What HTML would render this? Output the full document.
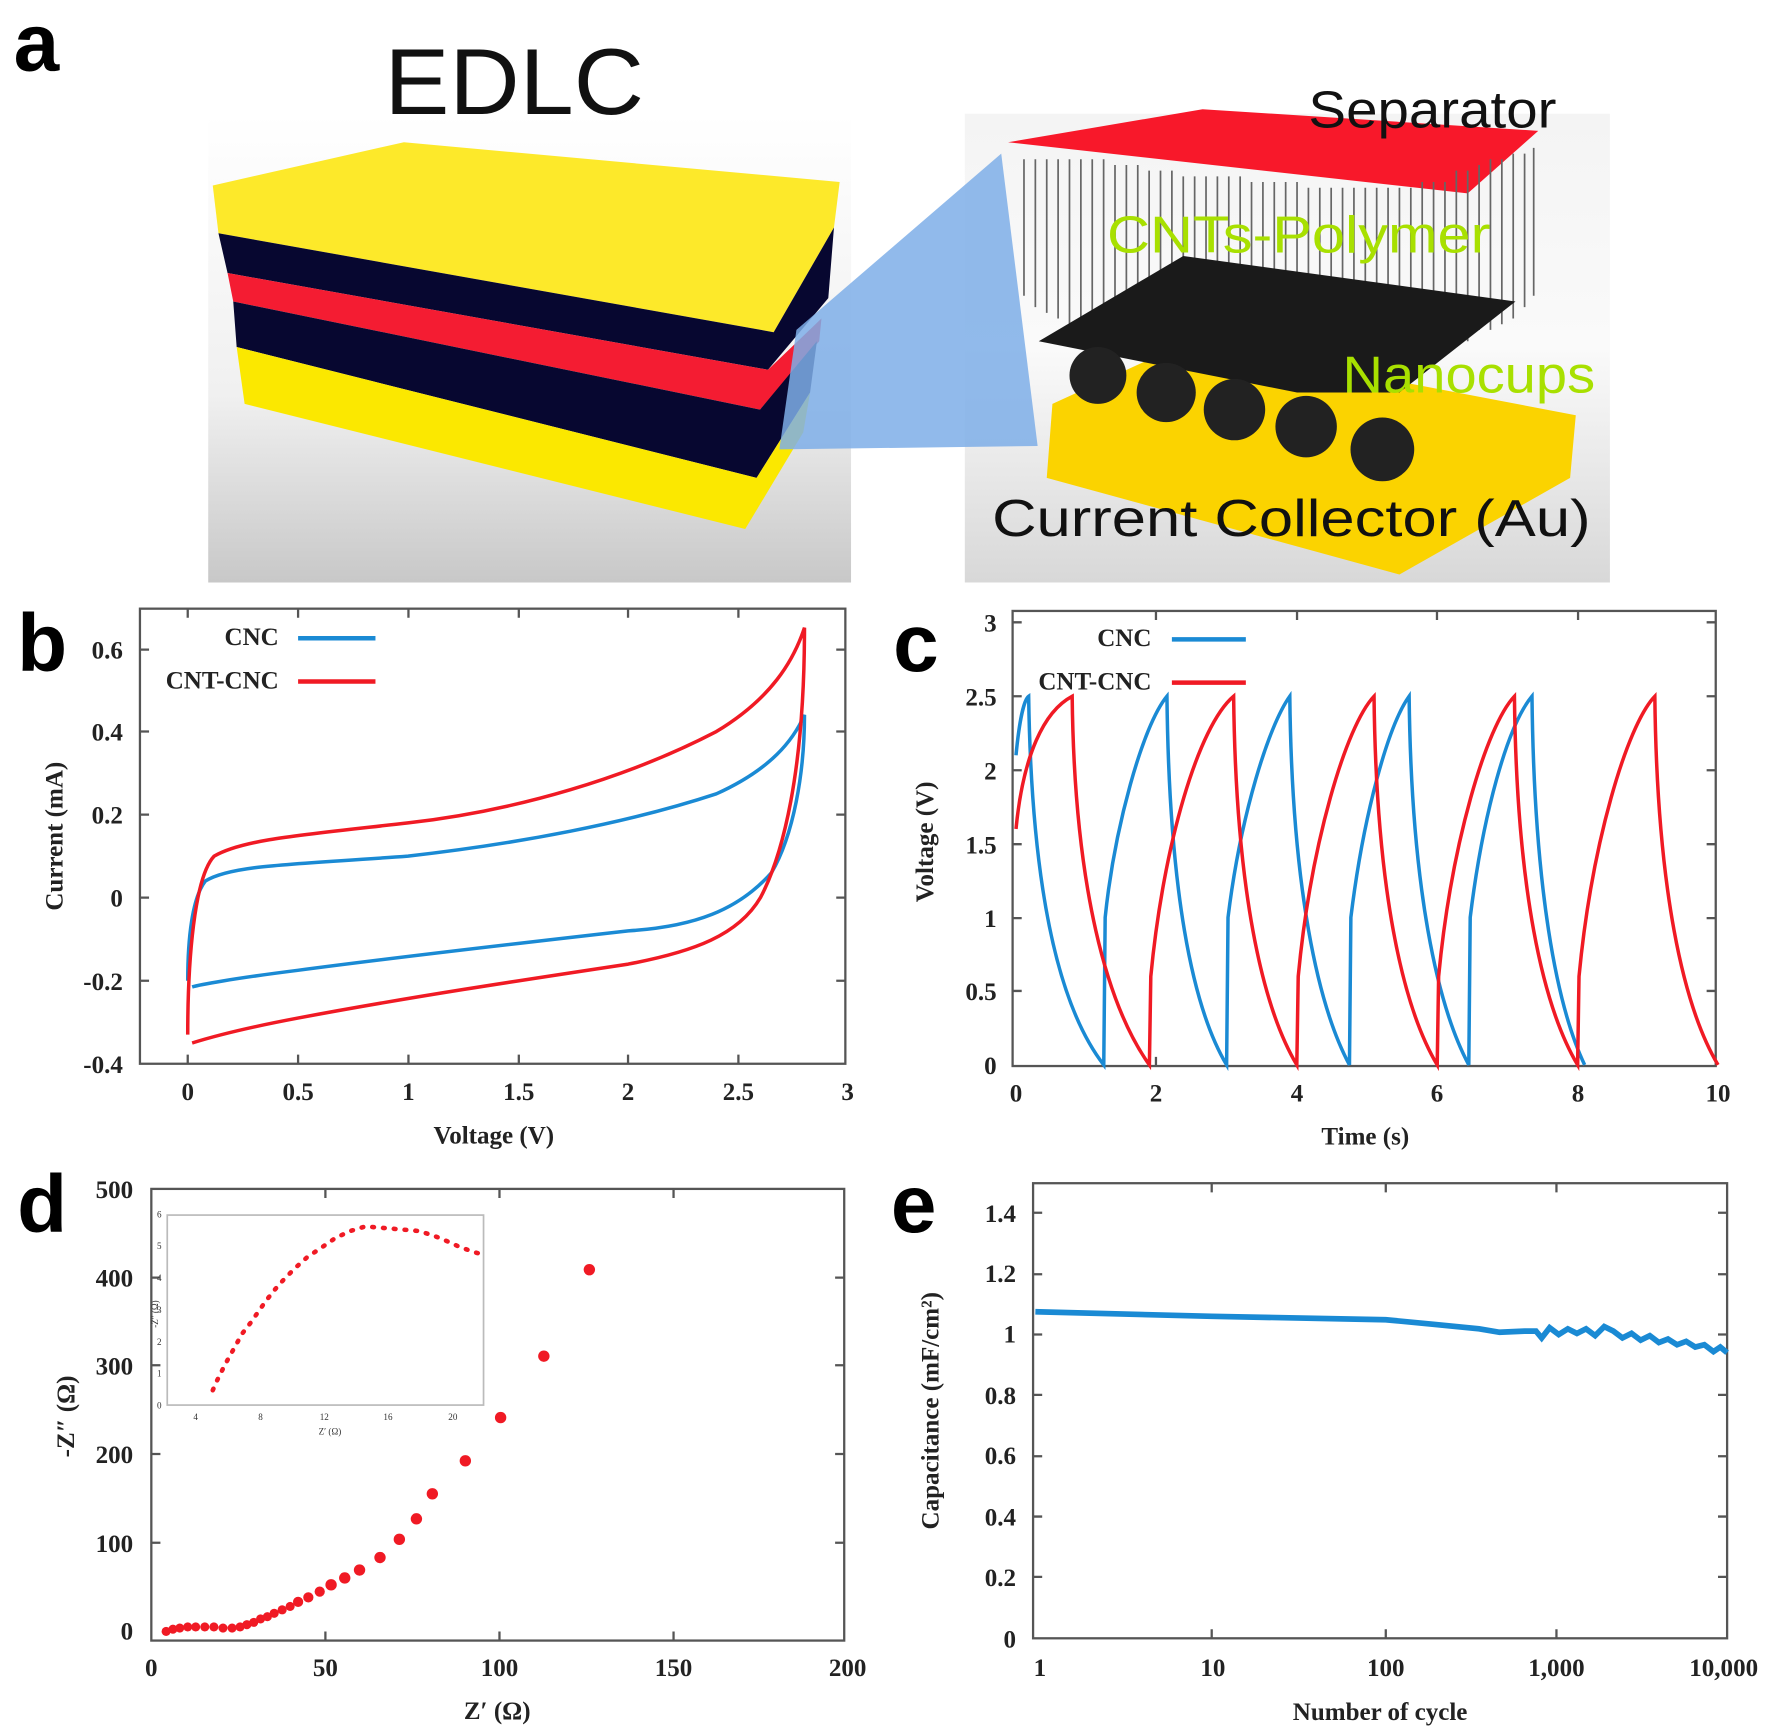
<!DOCTYPE html>
<html><head><meta charset="utf-8"><style>
html,body{margin:0;padding:0;background:#fff}
svg{display:block}
.t{font-family:"Liberation Serif",serif;font-weight:bold;font-size:22px;fill:#222}
.L{font-family:"Liberation Sans",sans-serif;font-weight:bold;font-size:72px;fill:#000}
.g{font-family:"Liberation Sans",sans-serif;font-size:46px}
.ax{fill:none;stroke:#555;stroke-width:2}
</style></head><body>
<svg width="1784" height="1735" viewBox="0 0 1568 1525" preserveAspectRatio="none" xmlns="http://www.w3.org/2000/svg">
<defs>
<linearGradient id="bg1" x1="0" y1="0" x2="0" y2="1"><stop offset="0" stop-color="#fff"/><stop offset="0.6" stop-color="#f0f0f0"/><stop offset="1" stop-color="#c8c8c8"/></linearGradient>
<linearGradient id="bg2" x1="0" y1="0" x2="0" y2="1"><stop offset="0" stop-color="#f4f4f4"/><stop offset="0.5" stop-color="#fafafa"/><stop offset="1" stop-color="#d8d8d8"/></linearGradient>
</defs>
<!-- panel a -->
<text x="12" y="62" class="L">a</text>
<rect x="183" y="100" width="565" height="412" fill="url(#bg1)"/>
<rect x="848" y="100" width="567" height="412" fill="url(#bg2)"/>
<text x="338" y="100" font-family="Liberation Sans,sans-serif" font-size="82" fill="#111" textLength="228" lengthAdjust="spacingAndGlyphs">EDLC</text>
<polygon points="187,163 355,125 738,160 733,200 680,292 192,205" fill="#fde92a"/>
<polygon points="192,205 680,292 733,200 728,262 675,325 200,240" fill="#070730"/>
<polygon points="200,240 675,325 722,280 720,300 668,360 205,265" fill="#f41c32"/>
<polygon points="205,265 668,360 718,300 712,345 665,420 208,305" fill="#070730"/>
<polygon points="208,305 665,420 712,345 706,380 655,465 215,355" fill="#fbe800"/>
<polygon points="700,290 880,135 912,392 685,395" fill="#7eaee8" opacity="0.85"/>
<polygon points="886,125 1057,96 1352,115 1290,170" fill="#f8182a"/>
<g stroke="#666" stroke-width="1.5">
<path d="M900 140V260M910 140V270M920 140V275M930 140V280M940 140V285M950 140V290M960 140V295M970 140V300M980 145V300M990 145V300M1000 145V300M1010 150V300M1020 150V300M1030 150V300M1040 155V300M1050 155V300M1060 155V300M1070 155V300M1080 155V300M1090 155V300M1100 160V300M1110 160V300M1120 160V300M1130 160V300M1140 160V300M1150 165V300M1160 165V300M1170 165V300M1180 165V300M1190 165V300M1200 165V300M1210 165V300M1220 165V300M1230 165V300M1240 165V300M1250 160V300M1260 160V300M1270 160V300M1280 150V300M1290 150V300M1300 145V290M1310 140V290M1320 140V285M1330 135V280M1340 135V270M1348 130V260"/>
</g>
<polygon points="925,355 1045,300 1385,365 1380,420 1230,505 920,420" fill="#fbd300"/>
<polygon points="913,300 1040,225 1332,265 1230,345 1140,345" fill="#1a1a1a"/>
<g fill="#222"><circle cx="965" cy="330" r="25"/><circle cx="1025" cy="345" r="26"/><circle cx="1085" cy="360" r="27"/><circle cx="1148" cy="375" r="27"/><circle cx="1215" cy="395" r="28"/></g>
<text x="1150" y="112" class="g" fill="#111" textLength="218" lengthAdjust="spacingAndGlyphs">Separator</text>
<text x="973" y="222" class="g" fill="#a8e000" textLength="337" lengthAdjust="spacingAndGlyphs">CNTs-Polymer</text>
<text x="1180" y="345" class="g" fill="#a8e000" textLength="222" lengthAdjust="spacingAndGlyphs">Nanocups</text>
<text x="872" y="471" class="g" font-size="48" fill="#111" textLength="526" lengthAdjust="spacingAndGlyphs">Current Collector (Au)</text>

<!-- panel b -->
<text x="15" y="590" class="L">b</text>
<rect x="123" y="535" width="620" height="400" class="ax"/>
<g class="t" text-anchor="end">
<text x="108" y="579">0.6</text><text x="108" y="651">0.4</text><text x="108" y="724">0.2</text><text x="108" y="797">0</text><text x="108" y="870">-0.2</text><text x="108" y="943">-0.4</text></g>
<g class="t" text-anchor="middle">
<text x="165" y="967">0</text><text x="262" y="967">0.5</text><text x="359" y="967">1</text><text x="456" y="967">1.5</text><text x="552" y="967">2</text><text x="649" y="967">2.5</text><text x="745" y="967">3</text>
<text x="434" y="1005">Voltage (V)</text>
<text transform="translate(55,735) rotate(-90)">Current (mA)</text></g>
<path d="M123 571h8M123 643h8M123 716h8M123 789h8M123 862h8M743 571h-8M743 643h-8M743 716h-8M743 789h-8M743 862h-8M165 935v-8M262 935v-8M359 935v-8M456 935v-8M552 935v-8M649 935v-8M165 535v8M262 535v8M359 535v8M456 535v8M552 535v8M649 535v8" class="ax"/>
<text x="245" y="567" class="t" text-anchor="end">CNC</text><text x="245" y="605" class="t" text-anchor="end">CNT-CNC</text>
<path d="M262 561h68" stroke="#1a8ad4" stroke-width="4"/><path d="M262 599h68" stroke="#f01a24" stroke-width="4"/>
<g transform="translate(165,789) scale(193.6,-365)" fill="none" stroke-width="3.5">
<path vector-effect="non-scaling-stroke" stroke="#1a8ad4" d="M0,-0.2 C0,-0.1 0.02,0 0.08,0.04 C0.2,0.08 0.5,0.08 1,0.1 C1.5,0.13 2,0.18 2.4,0.25 C2.65,0.31 2.75,0.38 2.8,0.44 C2.8,0.3 2.75,0.15 2.65,0.06 C2.5,-0.03 2.3,-0.07 2,-0.08 C1.5,-0.11 1,-0.14 0.5,-0.175 C0.2,-0.195 0.05,-0.21 0.02,-0.215"/>
<path vector-effect="non-scaling-stroke" stroke="#f01a24" d="M0,-0.33 C0,-0.15 0.03,0.05 0.12,0.1 C0.25,0.14 0.5,0.15 1,0.18 C1.5,0.21 2,0.29 2.4,0.4 C2.65,0.48 2.75,0.57 2.8,0.65 C2.8,0.3 2.7,0.1 2.6,0.0 C2.5,-0.09 2.3,-0.13 2,-0.16 C1.5,-0.2 1,-0.24 0.5,-0.29 C0.2,-0.32 0.05,-0.345 0.02,-0.35"/>
</g>

<!-- panel c -->
<text x="785" y="590" class="L">c</text>
<rect x="890" y="537" width="618" height="400" class="ax"/>
<g class="t" text-anchor="end">
<text x="876" y="555">3</text><text x="876" y="620">2.5</text><text x="876" y="685">2</text><text x="876" y="750">1.5</text><text x="876" y="815">1</text><text x="876" y="879">0.5</text><text x="876" y="944">0</text></g>
<g class="t" text-anchor="middle">
<text x="893" y="968">0</text><text x="1016" y="968">2</text><text x="1140" y="968">4</text><text x="1263" y="968">6</text><text x="1387" y="968">8</text><text x="1510" y="968">10</text>
<text x="1200" y="1006">Time (s)</text>
<text transform="translate(820,740) rotate(-90)">Voltage (V)</text></g>
<path d="M890 547h8M890 612h8M890 677h8M890 742h8M890 807h8M890 871h8M1508 547h-8M1508 612h-8M1508 677h-8M1508 742h-8M1508 807h-8M1508 871h-8M1016 937v-8M1140 937v-8M1263 937v-8M1387 937v-8M1016 537v8M1140 537v8M1263 537v8M1387 537v8" class="ax"/>
<text x="1012" y="568" class="t" text-anchor="end">CNC</text><text x="1012" y="606" class="t" text-anchor="end">CNT-CNC</text>
<path d="M1030 562h65" stroke="#1a8ad4" stroke-width="4"/><path d="M1030 600h65" stroke="#f01a24" stroke-width="4"/>
<g transform="translate(893,936) scale(61.7,-129.6)" fill="none">
<path vector-effect="non-scaling-stroke" stroke="#1a8ad4" stroke-width="3.5" d="M0,2.1 C0.05,2.35 0.12,2.48 0.18,2.5 C0.22,1.2 0.6,0.4 1.25,0 L1.27,1.0 C1.4,1.6 1.8,2.3 2.15,2.5 C2.18,1.2 2.5,0.4 3.0,0 L3.02,1.0 C3.2,1.7 3.6,2.3 3.9,2.5 C3.93,1.2 4.3,0.4 4.75,0 L4.77,1.0 C4.95,1.7 5.3,2.3 5.6,2.5 C5.63,1.2 6,0.4 6.45,0 L6.47,1.0 C6.65,1.7 7.0,2.3 7.35,2.5 C7.38,1.2 7.7,0.4 8.1,0"/>
<path vector-effect="non-scaling-stroke" stroke="#f01a24" stroke-width="3.5" d="M0,1.6 C0.1,2.1 0.4,2.4 0.8,2.5 C0.83,1.2 1.3,0.4 1.9,0 L1.92,0.6 C2.1,1.5 2.6,2.3 3.1,2.5 C3.13,1.2 3.5,0.4 4.0,0 L4.02,0.6 C4.2,1.5 4.7,2.3 5.1,2.5 C5.13,1.2 5.5,0.4 6.0,0 L6.02,0.6 C6.2,1.5 6.7,2.3 7.1,2.5 C7.13,1.2 7.5,0.4 8.0,0 L8.02,0.6 C8.2,1.5 8.7,2.3 9.1,2.5 C9.13,1.2 9.5,0.4 10,0"/>
</g>

<!-- panel d -->
<text x="15" y="1083" class="L">d</text>
<rect x="133" y="1045" width="609" height="397" class="ax"/>
<g class="t" text-anchor="end">
<text x="117" y="1053">500</text><text x="117" y="1131">400</text><text x="117" y="1208">300</text><text x="117" y="1286">200</text><text x="117" y="1364">100</text><text x="117" y="1441">0</text></g>
<g class="t" text-anchor="middle">
<text x="133" y="1473">0</text><text x="286" y="1473">50</text><text x="439" y="1473">100</text><text x="592" y="1473">150</text><text x="745" y="1473">200</text>
<text x="437" y="1511">Z′ (Ω)</text>
<text transform="translate(65,1245) rotate(-90)">-Z″ (Ω)</text></g>
<path d="M133 1123h8M133 1200h8M133 1278h8M133 1356h8M742 1123h-8M742 1200h-8M742 1278h-8M742 1356h-8M286 1442v-8M439 1442v-8M592 1442v-8M286 1045v8M439 1045v8M592 1045v8" class="ax"/>
<g fill="#f01a24">
<circle cx="146" cy="1434" r="4"/><circle cx="152" cy="1432" r="4"/><circle cx="158" cy="1431" r="4"/><circle cx="165" cy="1430" r="4"/><circle cx="172" cy="1430" r="4"/><circle cx="180" cy="1430" r="4"/><circle cx="188" cy="1430" r="4"/><circle cx="196" cy="1431" r="4"/><circle cx="204" cy="1431" r="4"/><circle cx="211" cy="1430" r="4"/><circle cx="217" cy="1428" r="4"/><circle cx="223" cy="1426" r="4"/><circle cx="229" cy="1423" r="4"/><circle cx="235" cy="1421" r="4"/><circle cx="241" cy="1418" r="4"/><circle cx="248" cy="1415" r="4"/><circle cx="255" cy="1412" r="4"/><circle cx="262" cy="1408" r="4.5"/><circle cx="271" cy="1404" r="4.5"/><circle cx="281" cy="1399" r="4.5"/><circle cx="291" cy="1393" r="5"/><circle cx="303" cy="1387" r="5"/><circle cx="316" cy="1380" r="5"/><circle cx="334" cy="1369" r="5"/><circle cx="351" cy="1353" r="5"/><circle cx="366" cy="1335" r="5"/><circle cx="380" cy="1313" r="5"/><circle cx="409" cy="1284" r="5"/><circle cx="440" cy="1246" r="5"/><circle cx="478" cy="1192" r="5"/><circle cx="518" cy="1116" r="5"/>
</g>
<rect x="147" y="1068" width="278" height="167" fill="#fff" stroke="#bbb" stroke-width="1.5"/>
<g font-family="Liberation Serif,serif" font-size="8" fill="#333" text-anchor="end">
<text x="142" y="1238">0</text><text x="142" y="1210">1</text><text x="142" y="1182">2</text><text x="142" y="1154">3</text><text x="142" y="1126">4</text><text x="142" y="1098">5</text><text x="142" y="1070">6</text></g>
<g font-family="Liberation Serif,serif" font-size="8" fill="#333" text-anchor="middle">
<text x="172" y="1248">4</text><text x="229" y="1248">8</text><text x="285" y="1248">12</text><text x="341" y="1248">16</text><text x="398" y="1248">20</text><text x="290" y="1261">Z′ (Ω)</text>
<text transform="translate(139,1155) rotate(-90)">-Z″ (Ω)</text></g>
<path d="M187,1222 L190,1215 194,1207 198,1199 203,1190 208,1181 213,1172 220,1163 227,1153 234,1143 242,1133 250,1124 260,1114 270,1105 282,1097 295,1088 308,1082 321,1078 333,1079 345,1080 357,1081 368,1082 381,1086 393,1091 404,1096 415,1100 425,1103" fill="none" stroke="#f01a24" stroke-width="4" stroke-dasharray="1.5 8" stroke-linecap="round"/>

<!-- panel e -->
<text x="783" y="1083" class="L">e</text>
<rect x="908" y="1040" width="610" height="400" class="ax"/>
<g class="t" text-anchor="end">
<text x="893" y="1074">1.4</text><text x="893" y="1127">1.2</text><text x="893" y="1180">1</text><text x="893" y="1234">0.8</text><text x="893" y="1287">0.6</text><text x="893" y="1341">0.4</text><text x="893" y="1394">0.2</text><text x="893" y="1448">0</text></g>
<g class="t" text-anchor="middle">
<text x="914" y="1473">1</text><text x="1066" y="1473">10</text><text x="1218" y="1473">100</text><text x="1368" y="1473">1,000</text><text x="1515" y="1473">10,000</text>
<text x="1213" y="1512">Number of cycle</text>
<text transform="translate(825,1240) rotate(-90)">Capacitance (mF/cm²)</text></g>
<path d="M908 1066h8M908 1120h8M908 1173h8M908 1226h8M908 1280h8M908 1333h8M908 1386h8M1518 1066h-8M1518 1120h-8M1518 1173h-8M1518 1226h-8M1518 1280h-8M1518 1333h-8M1518 1386h-8M1065 1440v-8M1218 1440v-8M1368 1440v-8M1065 1040v8M1218 1040v8M1368 1040v8" class="ax"/>
<path d="M910,1153 L1065,1157 1218,1160 1260,1164 1300,1168 1318,1171 1340,1170 1350,1170 1355,1176 1362,1167 1370,1173 1378,1168 1386,1172 1394,1168 1402,1174 1410,1166 1418,1170 1426,1176 1434,1172 1442,1178 1450,1174 1458,1180 1466,1177 1474,1182 1482,1179 1490,1184 1498,1182 1506,1188 1512,1184 1518,1189" fill="none" stroke="#1a8ad4" stroke-width="5"/>
</svg>
</body></html>
